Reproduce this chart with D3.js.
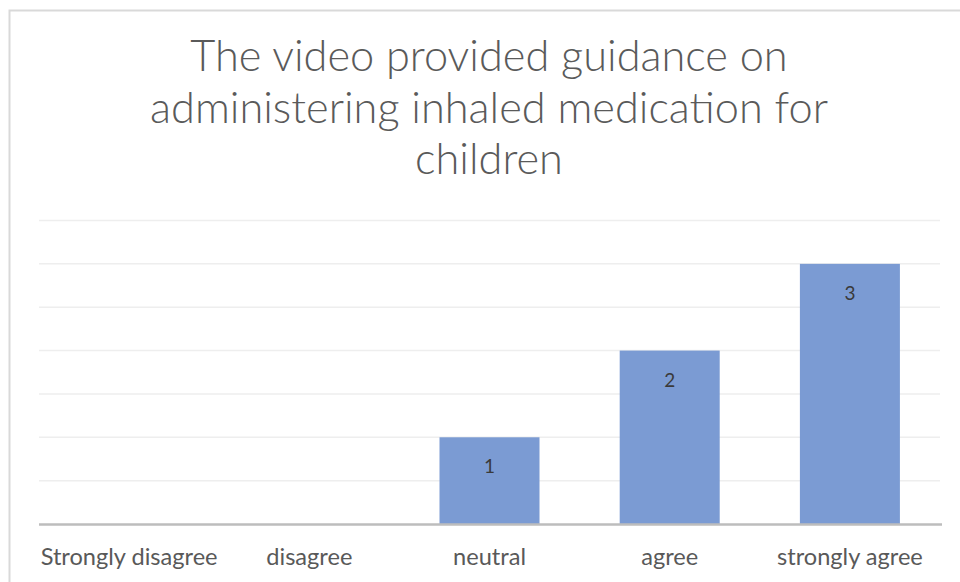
<!DOCTYPE html>
<meta charset="utf-8">
<style>
  body { margin: 0; background: #fff; }
  svg { display: block; }
</style>
<svg width="960" height="582"></svg>
<script src="https://d3js.org/d3.v7.min.js"></script>
<script>

var categories = ["Strongly disagree", "disagree", "neutral", "agree", "strongly agree"];
var counts = [0, 0, 1, 2, 3];
var gridTicks = [0.5, 1, 1.5, 2, 2.5, 3, 3.5];
var titleLines = ["The video provided guidance on", "administering inhaled medication for", "children"];

var svg = d3.select("svg"),
    width = +svg.attr("width"),
    height = +svg.attr("height");

var font = "Lato, 'Open Sans', sans-serif";
var textColor = "#595959";
var barColor = "#7b9bd3";

// fit a font size so a string comes out at the wanted width
function fitSize(str, target, weight) {
  var t = svg.append("text").style("font-family", font).style("font-size", "100px")
      .style("font-weight", weight || 400).text(str);
  var w = t.node().getComputedTextLength();
  t.remove();
  return 100 * target / w;
}

// chart frame
svg.append("rect")
    .attr("x", 9.5).attr("y", 10.5)
    .attr("width", 980).attr("height", 600)
    .attr("fill", "none")
    .attr("stroke", "#d9d9d9")
    .attr("stroke-width", 2);

// title
var titleSize = fitSize(titleLines[1], 678, 300);
svg.append("g").selectAll("text")
    .data(titleLines)
    .enter().append("text")
    .attr("x", 489)
    .attr("y", function(d, i) { return 71 + i * 51.5; })
    .attr("text-anchor", "middle")
    .attr("fill", "#5a5a5a")
    .style("font-family", font)
    .style("font-weight", 300)
    .style("font-size", titleSize + "px")
    .text(function(d) { return d; });

var x = d3.scaleBand()
    .domain(categories)
    .range([39, 940])
    .paddingInner(0.445)
    .paddingOuter(0.2225);

var y = d3.scaleLinear()
    .domain([0, 3.5])
    .range([524, 220.5]);

// gridlines
svg.append("g")
    .selectAll("line")
    .data(gridTicks)
    .enter().append("line")
    .attr("x1", 39).attr("x2", 940)
    .attr("y1", function(d) { return y(d); })
    .attr("y2", function(d) { return y(d); })
    .attr("stroke", "#eeeeee")
    .attr("stroke-width", 1.5);

// bars
svg.append("g")
    .selectAll("rect")
    .data(categories)
    .enter().append("rect")
    .attr("x", function(d) { return x(d); })
    .attr("y", function(d, i) { return y(counts[i]); })
    .attr("width", x.bandwidth())
    .attr("height", function(d, i) { return y(0) - y(counts[i]); })
    .attr("fill", barColor);

// value labels
svg.append("g")
    .selectAll("text")
    .data(categories.filter(function(d, i) { return counts[i] > 0; }))
    .enter().append("text")
    .attr("x", function(d) { return x(d) + x.bandwidth() / 2; })
    .attr("y", function(d) { return y(counts[categories.indexOf(d)]) + 36; })
    .attr("text-anchor", "middle")
    .attr("fill", "#3a3a3a")
    .style("font-family", font)
    .style("font-size", "19px")
    .text(function(d) { return counts[categories.indexOf(d)]; });

// baseline
svg.append("line")
    .attr("x1", 39).attr("x2", 942)
    .attr("y1", y(0) + 0.5).attr("y2", y(0) + 0.5)
    .attr("stroke", "#bdbdbd")
    .attr("stroke-width", 2.5);

// category labels
var labelSize = fitSize(categories[0], 177);
var xAxis = svg.append("g")
    .attr("transform", "translate(0," + 524 + ")")
    .call(d3.axisBottom(x).tickSize(0).tickPadding(0));
xAxis.select(".domain").remove();
xAxis.selectAll("text")
    .attr("y", 41)
    .attr("dy", 0)
    .attr("fill", textColor)
    .style("font-family", font)
    .style("font-size", labelSize + "px");

</script>
